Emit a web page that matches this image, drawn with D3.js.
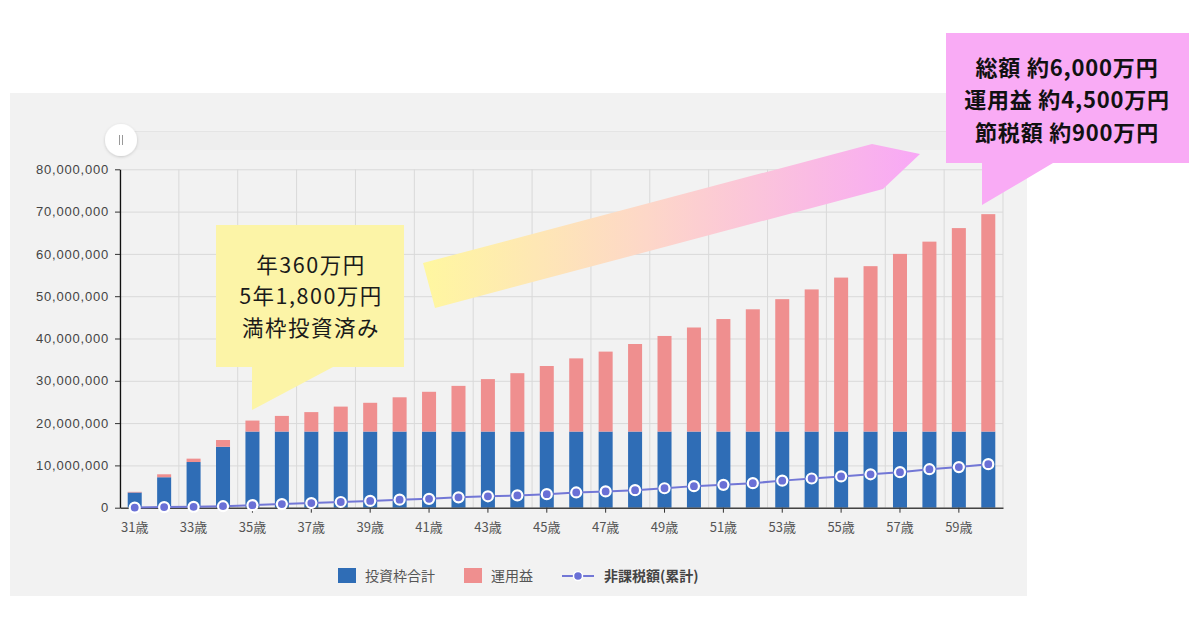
<!DOCTYPE html>
<html><head><meta charset="utf-8">
<script src="https://cdn.jsdelivr.net/npm/d3@7"></script>
<style>
body{margin:0;background:#fff;}
svg{display:block;font-family:"Liberation Sans","Noto Sans CJK JP",sans-serif;}
.jp{font-family:"Noto Sans CJK JP","Noto Sans",sans-serif;}
</style></head>
<body><svg id="c" width="1200" height="630"></svg>
<script>
// ---- data ----
const ages = d3.range(31, 61);
const investTotal = [3.6,7.2,10.8,14.4,18,18,18,18,18,18,18,18,18,18,18,18,18,18,18,18,18,18,18,18,18,18,18,18,18,18].map(v=>v*1e6);
const profit = [0.15,0.7,0.8,1.6,2.6,3.7,4.6,5.9,6.8,8.1,9.4,10.8,12.4,13.8,15.5,17.3,18.9,20.7,22.6,24.6,26.6,28.9,31.3,33.6,36.4,39.1,42.0,44.9,48.1,51.4].map(v=>v*1e6);
const taxFree = [0.02,0.14,0.2,0.35,0.6,0.85,1.1,1.35,1.6,1.9,2.1,2.45,2.7,2.9,3.2,3.6,3.85,4.15,4.6,5.1,5.4,5.8,6.4,6.9,7.4,7.9,8.4,9.1,9.6,10.3].map(v=>v*1e6);
const yTicks = [0,10e6,20e6,30e6,40e6,50e6,60e6,70e6,80e6];
const xTickAges = d3.range(31, 60, 2);
const legendItems = ["投資枠合計","運用益","非課税額(累計)"];
const calloutLeft = ["年360万円","5年1,800万円","満枠投資済み"];
const calloutRight = ["総額 約6,000万円","運用益 約4,500万円","節税額 約900万円"];

const colBlue = "#2f6db6", colPink = "#ef8f8f", colLine = "#7277d6";

const svg = d3.select("#c");
const defs = svg.append("defs");

// panel
svg.append("rect").attr("x",10).attr("y",93).attr("width",1017).attr("height",503).attr("fill","#f2f2f2");

const L=120, R=1003, T=169.3, B=507.7;
const x = d3.scaleBand().domain(ages).range([L,R]).paddingInner(0.524).paddingOuter(0.262);
const y = d3.scaleLinear().domain([0,80e6]).range([B,T]);
const step = x.step();

// slider
defs.append("filter").attr("id","sh").append("feDropShadow").attr("dx",0).attr("dy",1).attr("stdDeviation",1.5).attr("flood-color","#000").attr("flood-opacity",0.18);
svg.append("rect").attr("x",L).attr("y",131).attr("width",R-L).attr("height",19).attr("fill","#eeeeee");
svg.append("line").attr("x1",L).attr("x2",R).attr("y1",131.5).attr("y2",131.5).attr("stroke","#e4e4e4");
svg.append("circle").attr("cx",121).attr("cy",140).attr("r",16).attr("fill","#fff").attr("filter","url(#sh)");
svg.append("line").attr("x1",119.5).attr("x2",119.5).attr("y1",135).attr("y2",145).attr("stroke","#999").attr("stroke-width",1);
svg.append("line").attr("x1",122.5).attr("x2",122.5).attr("y1",135).attr("y2",145).attr("stroke","#999").attr("stroke-width",1);

// gridlines
const g = svg.append("g");
g.selectAll(".hg").data(yTicks).join("line")
  .attr("x1",L).attr("x2",R).attr("y1",d=>y(d)+0.5).attr("y2",d=>y(d)+0.5)
  .attr("stroke","#d9d9d9").attr("stroke-width",1);
g.selectAll(".vg").data(d3.range(0,16)).join("line")
  .attr("x1",d=>L+d*2*step).attr("x2",d=>L+d*2*step).attr("y1",T).attr("y2",B)
  .attr("stroke","#d9d9d9").attr("stroke-width",1);

// bars
const bars = svg.append("g");
bars.selectAll(".b1").data(ages).join("rect")
  .attr("x",d=>x(d)).attr("width",x.bandwidth())
  .attr("y",(d,i)=>y(investTotal[i])).attr("height",(d,i)=>y(0)-y(investTotal[i]))
  .attr("fill",colBlue);
bars.selectAll(".b2").data(ages).join("rect")
  .attr("x",d=>x(d)).attr("width",x.bandwidth())
  .attr("y",(d,i)=>y(investTotal[i]+profit[i])).attr("height",(d,i)=>y(investTotal[i])-y(investTotal[i]+profit[i]))
  .attr("fill",colPink);

// axes
const yAxis = svg.append("g").attr("transform",`translate(${L},0)`)
  .call(d3.axisLeft(y).tickValues(yTicks).tickFormat(d3.format(",")).tickSize(5).tickSizeOuter(0).tickPadding(6));
yAxis.select(".domain").attr("stroke","#111").attr("stroke-width",1.3);
yAxis.selectAll(".tick line").attr("stroke","#333");
yAxis.selectAll("text").attr("font-size",13).attr("letter-spacing","0.8px").attr("fill","#444").attr("font-family","Liberation Sans, Arial, sans-serif");

const xAxis = svg.append("g").attr("transform",`translate(0,${B})`)
  .call(d3.axisBottom(x).tickValues(xTickAges).tickFormat(d=>d+"歳").tickSize(5).tickSizeOuter(0).tickPadding(10));
xAxis.select(".domain").attr("stroke","#444").attr("stroke-width",1.6);
xAxis.selectAll(".tick line").attr("stroke","#333");
xAxis.selectAll("text").attr("font-size",13).attr("fill","#555").attr("class","jp");

// line
const cx = d=>x(d)+x.bandwidth()/2;
svg.append("path").datum(ages)
  .attr("d",d3.line().x(d=>cx(d)).y((d,i)=>y(taxFree[i])))
  .attr("fill","none").attr("stroke",colLine).attr("stroke-width",2);
svg.selectAll(".pt").data(ages).join("circle")
  .attr("cx",d=>cx(d)).attr("cy",(d,i)=>y(taxFree[i])).attr("r",5)
  .attr("fill","#6a70d6").attr("stroke","#fff").attr("stroke-width",2.2);

// legend
const lg = svg.append("g").attr("class","jp");
lg.append("rect").attr("x",338).attr("y",568).attr("width",18).attr("height",15).attr("fill",colBlue);
lg.append("text").attr("x",365).attr("y",581).attr("font-size",14).attr("fill","#555").text(legendItems[0]);
lg.append("rect").attr("x",464).attr("y",568).attr("width",18).attr("height",15).attr("fill",colPink);
lg.append("text").attr("x",491).attr("y",581).attr("font-size",14).attr("fill","#555").text(legendItems[1]);
lg.append("line").attr("x1",562).attr("x2",594).attr("y1",576).attr("y2",576).attr("stroke",colLine).attr("stroke-width",2);
lg.append("circle").attr("cx",578).attr("cy",576).attr("r",4.5).attr("fill","#6a70d6").attr("stroke","#fff").attr("stroke-width",1.5);
lg.append("text").attr("x",604).attr("y",581).attr("font-size",14).attr("font-weight","bold").attr("fill","#444").text(legendItems[2]);

// gradient arrow
const gr = defs.append("linearGradient").attr("id","ag").attr("gradientUnits","userSpaceOnUse")
  .attr("x1",423).attr("x2",920).attr("y1",0).attr("y2",0);
gr.append("stop").attr("offset","0").attr("stop-color","#fff7a0");
gr.append("stop").attr("offset","0.45").attr("stop-color","#fdd7c8");
gr.append("stop").attr("offset","1").attr("stop-color","#f8a8f6");
svg.append("path").attr("d","M423,263 L872,144 L920,154 L883,189 L435,308 Z").attr("fill","url(#ag)");

// yellow callout
svg.append("path").attr("d","M216,225 L404,225 L404,367 L333,367 L252,410 L252,367 L216,367 Z").attr("fill","#fcf4a7");
svg.append("g").attr("class","jp").selectAll("text").data(calloutLeft).join("text")
  .attr("x",311).attr("y",(d,i)=>272.5+i*31.8).attr("text-anchor","middle")
  .attr("font-size",21.5).attr("letter-spacing","1.5px").attr("fill","#1a1a1a").text(d=>d);

// pink callout
svg.append("path").attr("d","M946,33 L1189,33 L1189,163 L1053,163 L982,205 L982,163 L946,163 Z").attr("fill","#f9abf5");
svg.append("g").attr("class","jp").selectAll("text").data(calloutRight).join("text")
  .attr("x",1067).attr("y",(d,i)=>75.5+i*32.5).attr("text-anchor","middle")
  .attr("font-size",22).attr("letter-spacing","0.8px").attr("font-weight","bold").attr("fill","#111").text(d=>d);
</script></body></html>
